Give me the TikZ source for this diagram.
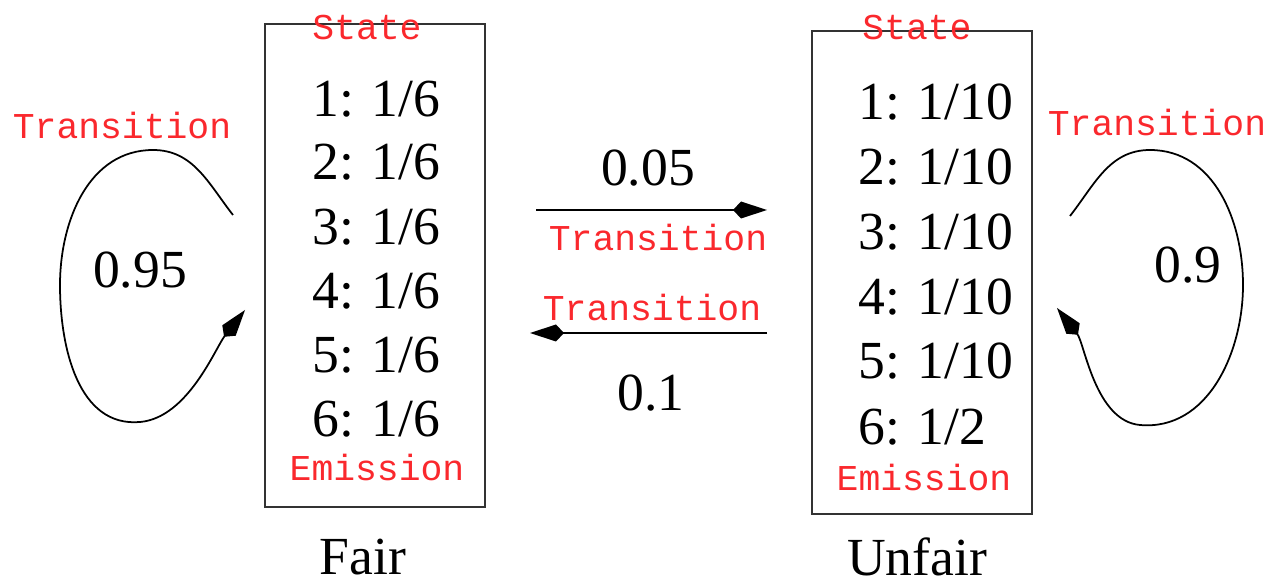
\documentclass[tikz,border=0pt]{standalone}
\usepackage{fontspec}
\setmainfont{Liberation Serif}
\newfontfamily\codefont{Liberation Mono}
\usetikzlibrary{arrows.meta}
\definecolor{labelred}{RGB}{250,40,45}

\begin{document}
\begin{tikzpicture}[x=0.02cm,y=0.02cm,
		statebox/.style={draw=black!80, line width=1pt, minimum width=4.4cm, minimum height=9.66cm, inner sep=0pt},
		prob/.style={font=\fontsize{30.5}{36}\selectfont, inner sep=0pt},
		redlabel/.style={text=labelred, font=\codefont\fontsize{20.7}{24}\selectfont, inner sep=0pt},
		trans/.style={line width=1pt, -{Kite[length=0.68cm, width=0.34cm, inset=0.16cm]}}]
	\useasboundingbox (0,0) rectangle (1278,585);
	% the two dice
	\node[statebox] (fair) at (375,319.5) {};
	\node[statebox] (unfair) at (922,312.5) {};
	\node[redlabel] (fairstate) at (367,557) {State};
	\node[redlabel] (unfairstate) at (917,557) {State};
	\node[redlabel] (fairemit) at (377,117) {Emission};
	\node[redlabel] (unfairemit) at (924,107) {Emission};
	\node[prob] (fairname) at (363,28) {Fair};
	\node[prob] (unfairname) at (917,28) {Unfair};
	% emission probabilities
	\foreach \i/\y in {1/468,2/405,3/340,4/276,5/212,6/148}
		\node[prob, anchor=base west] (fair\i) at (312,\y) {\i: 1/6};
	\foreach \i/\y/\p in {1/465/1\slash10,2/400/1\slash10,3/335/1\slash10,4/270/1\slash10,5/206/1\slash10,6/140/1\slash2}
		\node[prob, anchor=base west] (unfair\i) at (858,\y) {\i: \p};
	% switching between the dice
	\coordinate (ftou) at (536,375);
	\coordinate (ftouend) at (767,375);
	\coordinate (utof) at (767,252);
	\coordinate (utofend) at (530,252);
	\draw[trans] (ftou) -- (ftouend);
	\draw[trans] (utof) -- (utofend);
	\node[prob] (pswitch) at (648,417) {0.05};
	\node[redlabel] (switchlab) at (658,347) {Transition};
	\node[redlabel] (backlab) at (652,277) {Transition};
	\node[prob] (pback) at (651,192) {0.1};
	% staying with the same die
	\coordinate (fstay) at (233,370);
	\coordinate (fstayend) at (245,275);
	\draw[trans] (fstay) to[out=128,in=0] (153,435) to[out=180,in=90] (60,300)
		to[out=270,in=185] (140,163) to[out=5,in=232,looseness=0.8] (fstayend);
	\node[prob] (pfair) at (140,315) {0.95};
	\node[redlabel] (fairlab) at (122,459) {Transition};
	\coordinate (ustay) at (1070,369);
	\coordinate (ustayend) at (1057,277);
	\draw[trans] (ustay) to[out=52,in=180] (1150,435) to[out=0,in=90] (1243,300)
		to[out=270,in=-5] (1140,160) to[out=175,in=-52,looseness=0.8] (ustayend);
	\node[prob] (punfair) at (1188,320) {0.9};
	\node[redlabel] (unfairlab) at (1157,462) {Transition};
\end{tikzpicture}
\end{document}
